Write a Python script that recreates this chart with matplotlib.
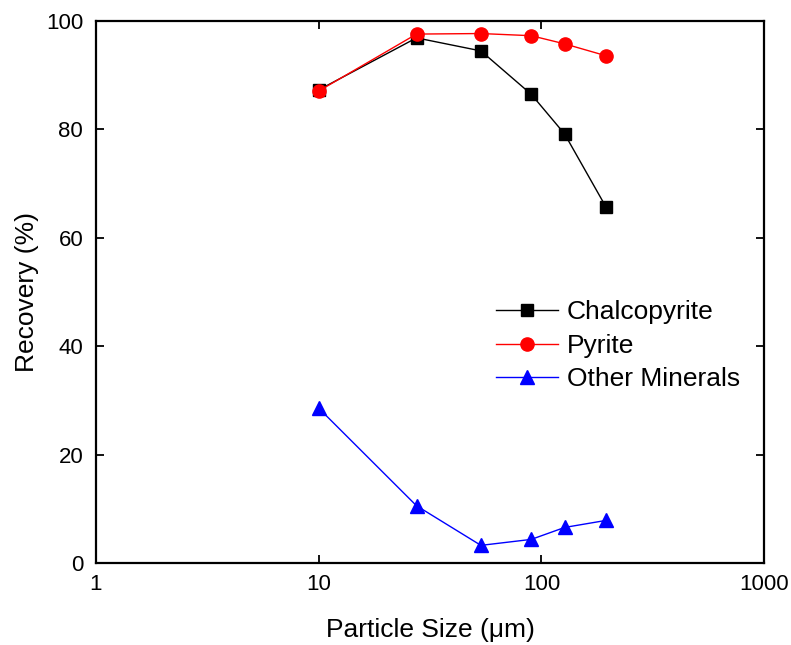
import matplotlib
matplotlib.use("Agg")
import matplotlib.pyplot as plt

plt.rcParams['font.family'] = ['Liberation Sans', 'DejaVu Sans']

# Particle size classes (µm) and recoveries (%)
size_um = [10, 27.5, 53.5, 90, 127, 195]
chalcopyrite = [87.2, 96.8, 94.4, 86.4, 79.1, 65.6]
pyrite = [87.0, 97.5, 97.6, 97.2, 95.7, 93.5]
other_minerals = [28.6, 10.6, 3.3, 4.4, 6.6, 7.9]

x_ticks = [1, 10, 100, 1000]
x_tick_labels = ["1", "10", "100", "1000"]
y_ticks = [0, 20, 40, 60, 80, 100]

fig = plt.figure(figsize=(7.91, 6.45), dpi=100)
ax = fig.add_axes([0.121, 0.1267, 0.8453, 0.8415])

ax.plot(size_um, chalcopyrite, color='black', marker='s', markersize=8.3,
        linewidth=1, label='Chalcopyrite')
ax.plot(size_um, pyrite, color='red', marker='o', markersize=9.5,
        linewidth=1, label='Pyrite')
ax.plot(size_um, other_minerals, color='blue', marker='^', markersize=10.5,
        linewidth=1, label='Other Minerals')

ax.set_xscale('log')
ax.set_xlim(1, 1000)
ax.set_ylim(0, 100)
ax.set_xticks(x_ticks)
ax.set_xticklabels(x_tick_labels)
ax.set_yticks(y_ticks)
ax.minorticks_off()

ax.tick_params(direction='in', length=6, width=1.3, top=True, right=True,
               labelsize=16)
ax.tick_params(axis='x', pad=7.5)
ax.tick_params(axis='y', pad=9)
for s in ax.spines.values():
    s.set_linewidth(1.6)

ax.set_xlabel('Particle Size (\u03bcm)', fontsize=19, labelpad=16.5)
ax.set_ylabel('Recovery (%)', fontsize=19, labelpad=5)

ax.legend(loc='center left', bbox_to_anchor=(0.597, 0.4636),
          bbox_transform=fig.transFigure, frameon=False,
          fontsize=19, handlelength=2.35, handletextpad=0.34,
          labelspacing=0.36)

fig.savefig('out.png', dpi=100)
